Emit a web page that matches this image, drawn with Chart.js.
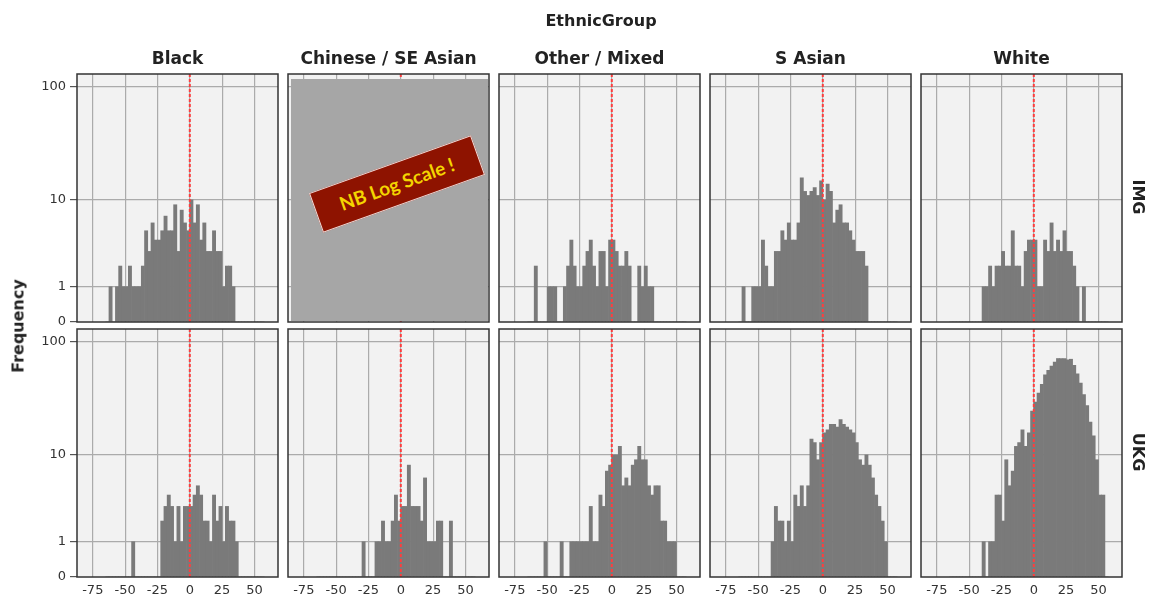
<!DOCTYPE html>
<html><head><meta charset="utf-8">
<script src="https://cdn.jsdelivr.net/npm/chart.js@4.4.1/dist/chart.umd.min.js"></script>
<style>
html,body{margin:0;padding:0;background:#fff;}
#root{position:relative;width:1150px;height:604px;overflow:hidden;font-family:"DejaVu Sans",sans-serif;color:#222;}
.t{position:absolute;white-space:nowrap;font-weight:bold;transform:translate(-50%,-50%);}
canvas{position:absolute;}
#cover{position:absolute;background:#a6a6a6;}
#nb{position:absolute;background:#8e1300;border:1px solid rgba(255,255,255,0.85);color:#f4d400;font-family:Lato,"Open Sans",sans-serif;font-weight:bold;font-size:19px;text-align:center;box-sizing:border-box;}
</style></head><body><div id="root"></div>
<script>
// ---------------- data ----------------
const facetTitle = 'EthnicGroup';
const yTitle = 'Frequency';
const groups = ['Black', 'Chinese / SE Asian', 'Other / Mixed', 'S Asian', 'White'];
const rowNames = ['IMG', 'UKG'];

const binCenters = [-63.75, -61.25, -58.75, -56.25, -53.75, -51.25, -48.75, -46.25, -43.75, -41.25,
  -38.75, -36.25, -33.75, -31.25, -28.75, -26.25, -23.75, -21.25, -18.75, -16.25,
  -13.75, -11.25, -8.75, -6.25, -3.75, -1.25, 1.25, 3.75, 6.25, 8.75,
  11.25, 13.75, 16.25, 18.75, 21.25, 23.75, 26.25, 28.75, 31.25, 33.75,
  36.25, 38.75, 41.25, 43.75, 46.25, 48.75, 51.25, 53.75, 56.25];

const blackIMG  = [0,1,0,1,2,1,1,2,1,1, 1,2,5,3,6,4,4,5,7,5, 5,9,3,8,6,5,10,6,9,4, 6,3,3,5,3,3,1,2,2,1, 0,0,0,0,0,0,0,0,0];
const chineseIMG = null; // panel covered by the note
const otherIMG  = [0,0,2,0,0,0,1,1,1,0, 0,1,2,4,2,1,1,2,3,4, 2,1,3,3,1,4,4,3,2,2, 3,2,0,0,2,1,2,1,1,0, 0,0,0,0,0,0,0,0,0];
const sAsianIMG = [0,1,0,0,1,1,1,4,2,1, 1,3,3,5,4,6,4,4,6,16, 12,11,12,13,11,15,10,14,12,6, 8,9,6,6,5,4,3,3,3,2, 0,0,0,0,0,0,0,0,0];
const whiteIMG  = [0,0,0,0,0,0,0,0,0,0, 1,1,2,1,2,2,3,2,2,5, 2,2,1,3,4,4,4,1,1,4, 3,6,3,4,3,5,3,3,2,1, 0,1,0,0,0,0,0,0,0];

const blackUKG   = [0,0,0,0,0,0,0,0,1,0, 0,0,0,0,0,0,0,2,3,4, 3,1,3,1,3,3,3,4,5,4, 2,2,1,4,2,3,1,3,2,2, 1,0,0,0,0,0,0,0,0];
const chineseUKG = [0,0,0,0,0,0,0,0,0,0, 0,0,0,0,1,0,0,0,1,1, 2,1,1,2,4,2,3,3,8,3, 3,3,2,6,1,1,1,2,2,0, 0,2,0,0,0,0,0,0,0];
const otherUKG   = [0,0,0,0,0,1,0,0,0,0, 1,0,0,1,1,1,1,1,1,3, 1,1,4,3,7,8,10,10,12,5, 6,5,8,9,12,9,9,5,4,5, 5,2,2,1,1,1,0,0,0];
const sAsianUKG  = [0,0,0,0,0,0,0,0,0,0, 1,3,2,2,1,2,1,4,3,5, 3,5,14,13,9,13,16,17,19,19, 18,21,19,18,17,16,13,9,8,10, 8,6,4,3,2,1,0,0,0];
const whiteUKG   = [0,0,0,0,0,0,0,0,0,0, 1,0,1,1,4,4,2,9,5,7, 12,13,17,12,16,25,30,36,43,52, 57,62,67,72,72,72,70,71,63,53, 44,35,28,20,15,9,4,4,0];

const countsByRow = [
  [blackIMG, chineseIMG, otherIMG, sAsianIMG, whiteIMG],
  [blackUKG, chineseUKG, otherUKG, sAsianUKG, whiteUKG]
];

const yTickValues = [0, 1, 10, 100];
const yTickLabels = ['0', '1', '10', '100'];
const xTickValues = [-75, -50, -25, 0, 25, 50];
const xTickLabels = ['-75', '-50', '-25', '0', '25', '50'];
const referenceValue = 0;
const noteText = 'NB Log Scale !';

// ---------------- layout ----------------
const root = document.getElementById('root');
const PLOT_W = 201, PLOT_H = 248;
const colLeft = [77, 288, 499, 710, 921];
const rowTop = [74, 329];
const PAD = 9, YAXIS_W = 44, XAXIS_H = 26;
const X_MIN = -87.2, X_MAX = 68.2;
const Y_MAX = 2.115;
const tf = v => Math.log10(1 + v);

Chart.defaults.font.family = '"DejaVu Sans", sans-serif';
Chart.defaults.font.size = 13;
Chart.defaults.color = '#333';

const panelPlugin = {
  id: 'panel',
  beforeDraw(chart) {
    const { ctx, chartArea: a } = chart;
    ctx.save();
    ctx.fillStyle = '#f2f2f2';
    ctx.fillRect(a.left, a.top, a.width, a.height);
    ctx.restore();
  },
  afterDraw(chart) {
    const { ctx, chartArea: a } = chart;
    ctx.save();
    ctx.strokeStyle = '#333';
    ctx.lineWidth = 1.5;
    ctx.strokeRect(a.left, a.top, a.width, a.height);
    ctx.restore();
  }
};

function addText(txt, x, y, size, rot) {
  const d = document.createElement('div');
  d.className = 't';
  d.textContent = txt;
  d.style.left = x + 'px';
  d.style.top = y + 'px';
  d.style.fontSize = size + 'px';
  d.style.transform = 'translate(-50%,-50%)' + (rot ? ' rotate(' + rot + 'deg)' : '');
  root.appendChild(d);
}

for (let r = 0; r < 2; r++) {
  for (let c = 0; c < 5; c++) {
    const isLeft = c === 0, isBottom = r === 1;
    const yW = isLeft ? YAXIS_W : 0;
    const xH = isBottom ? XAXIS_H : 0;
    const cw = PAD + yW + PLOT_W + PAD;
    const ch = PAD + PLOT_H + xH + PAD;
    const cv = document.createElement('canvas');
    cv.width = cw; cv.height = ch;
    cv.style.width = cw + 'px'; cv.style.height = ch + 'px';
    cv.style.left = (colLeft[c] - PAD - yW) + 'px';
    cv.style.top = (rowTop[r] - PAD) + 'px';
    root.appendChild(cv);

    const counts = countsByRow[r][c];
    const datasets = [{
      type: 'line',
      data: [{ x: referenceValue, y: 0 }, { x: referenceValue, y: Y_MAX }],
      borderColor: '#ff3d3d',
      borderWidth: 2,
      borderDash: [3, 2],
      pointRadius: 0,
      order: 0
    }];
    if (counts) {
      datasets.push({
        type: 'bar',
        data: binCenters.map((x, i) => ({ x: x, y: tf(counts[i]) })),
        backgroundColor: '#7a7a7a',
        borderWidth: 0,
        barPercentage: 1,
        categoryPercentage: 1,
        order: 1
      });
    }

    new Chart(cv, {
      type: 'bar',
      data: { datasets },
      options: {
        responsive: false,
        animation: false,
        devicePixelRatio: 1,
        layout: { padding: PAD },
        plugins: { legend: { display: false }, tooltip: { enabled: false } },
        scales: {
          x: {
            type: 'linear',
            min: X_MIN, max: X_MAX,
            offset: false,
            afterBuildTicks: s => { s.ticks = xTickValues.map(v => ({ value: v })); },
            afterFit: s => { s.height = xH; s.paddingLeft = 0; s.paddingRight = 0; s.paddingTop = 0; s.paddingBottom = 0; },
            grid: { color: '#ababab', lineWidth: 1.2, drawTicks: false, offset: false },
            border: { display: false },
            ticks: {
              display: isBottom, autoSkip: false, maxRotation: 0, padding: 6,
              color: '#333', font: { size: 13 },
              callback: (v, i) => xTickLabels[i]
            }
          },
          y: {
            type: 'linear',
            min: 0, max: Y_MAX,
            afterBuildTicks: s => { s.ticks = yTickValues.map(v => ({ value: tf(v) })); },
            afterFit: s => { s.width = yW; s.paddingLeft = 0; s.paddingRight = 0; s.paddingTop = 0; s.paddingBottom = 0; },
            grid: {
              color: ctx => (ctx.tick && ctx.tick.value === 0) ? 'rgba(0,0,0,0)' : '#ababab',
              lineWidth: 1.2,
              drawTicks: isLeft, tickLength: 7, tickColor: '#555', tickWidth: 1.2
            },
            border: { display: false },
            ticks: {
              display: isLeft, autoSkip: false, padding: 4,
              color: '#333', font: { size: 13 },
              callback: (v, i) => yTickLabels[i]
            }
          }
        }
      },
      plugins: [panelPlugin]
    });
  }
}

// note over the empty Chinese / SE Asian IMG panel
const cover = document.createElement('div');
cover.id = 'cover';
cover.style.left = (colLeft[1] + 3) + 'px';
cover.style.top = (rowTop[0] + 5) + 'px';
cover.style.width = (PLOT_W - 4) + 'px';
cover.style.height = (PLOT_H - 6) + 'px';
root.appendChild(cover);
const nb = document.createElement('div');
nb.id = 'nb';
nb.textContent = noteText;
nb.style.width = '172px'; nb.style.height = '42px'; nb.style.lineHeight = '40px';
nb.style.left = (397 - 86) + 'px'; nb.style.top = (184 - 21) + 'px';
nb.style.transform = 'rotate(-19.7deg)';
root.appendChild(nb);

// texts
addText(facetTitle, 601, 20, 16, 0);
groups.forEach((g, c) => addText(g, colLeft[c] + PLOT_W / 2, 58, 17, 0));
addText(yTitle, 18, 326, 16, -90);
rowNames.forEach((n, r) => addText(n, 1138, rowTop[r] + PLOT_H / 2 - 1, 16, 90));
</script>
</body></html>
